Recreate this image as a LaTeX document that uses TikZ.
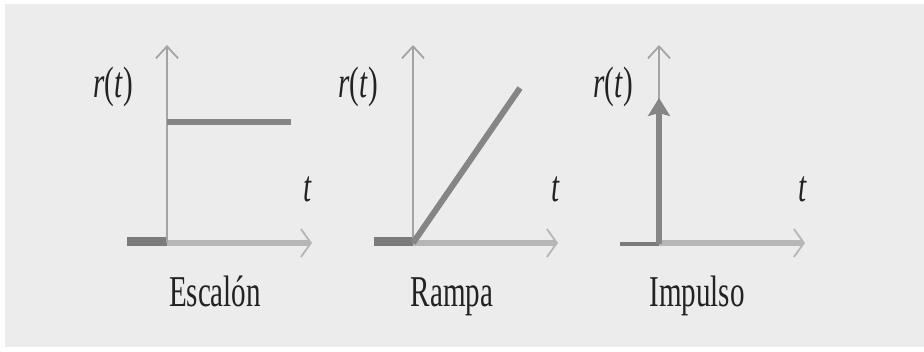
\documentclass[tikz,border=0pt]{standalone}
\usepackage{fontspec}
\setmainfont{Liberation Serif}
\usetikzlibrary{arrows.meta}
\definecolor{bggray}{HTML}{ECECEC}
\definecolor{axgray}{HTML}{A4A4A4}
\definecolor{bandgray}{HTML}{B6B6B6}
\definecolor{siggray}{HTML}{858585}
\definecolor{stubgray}{HTML}{7B7B7B}
\definecolor{ink}{HTML}{222222}

\begin{document}
\begin{tikzpicture}[x=1pt,y=1pt,
  vaxis/.style={draw=axgray,line width=2pt,-{Straight Barb[length=12pt,width=22pt,line width=1.8pt]}},
  haxis/.style={draw=bandgray,line width=6pt,-{Straight Barb[length=10pt,width=28pt,line width=1.8pt]}},
  stub/.style={draw=stubgray,line width=9pt},
  sig/.style={draw=siggray,line width=6pt},
  lbl/.style={text=ink,font=\fontsize{44}{50}\selectfont,xscale=0.66,inner sep=0pt},
  sigtitle/.style={lbl,anchor=base}]
\useasboundingbox (0,0) rectangle (924,351);
\fill[white] (0,0) rectangle (924,351);
\fill[bggray] (5,4) rectangle (924,347);
% Escalon
\coordinate (o1) at (167,108);
\coordinate (y1) at (167,306);
\coordinate (x1) at (312,108);
\coordinate (m1) at (127,109);
\coordinate (c1) at (167,109);
\coordinate (s1) at (167,229);
\coordinate (e1) at (291,229);
\draw[stub] (m1) -- (c1);
\draw[haxis] (o1) -- (x1);
\draw[vaxis] (o1) -- (y1);
\draw[sig] (s1) -- (e1);
\node[lbl] (r1) at (113,264) {\textit{r}(\textit{t})};
\node[lbl] (t1) at (308,162) {\textit{t}};
\node[sigtitle] (esc) at (215,45) {Escalón};
% Rampa
\coordinate (o2) at (413,108);
\coordinate (y2) at (413,306);
\coordinate (x2) at (558,108);
\coordinate (m2) at (374,109);
\coordinate (c2) at (413,109);
\coordinate (e2) at (520,263);
\draw[stub] (m2) -- (c2);
\draw[haxis] (o2) -- (x2);
\draw[vaxis] (o2) -- (y2);
\draw[sig] (o2) -- (e2);
\node[lbl] (r2) at (358,264) {\textit{r}(\textit{t})};
\node[lbl] (t2) at (556,162) {\textit{t}};
\node[sigtitle] (ram) at (452,45) {Rampa};
% Impulso
\coordinate (o3) at (659,108);
\coordinate (y3) at (659,306);
\coordinate (x3) at (805,108);
\coordinate (m3) at (620,107);
\coordinate (c3) at (659,107);
\coordinate (e3) at (659,253);
\draw[stub,line width=4pt] (m3) -- (c3);
\draw[haxis] (o3) -- (x3);
\draw[vaxis] (o3) -- (y3);
\draw[sig,-{Stealth[length=18pt,width=22pt,inset=3pt]}] (c3) -- (e3);
\node[lbl] (r3) at (613,264) {\textit{r}(\textit{t})};
\node[lbl] (t3) at (803,162) {\textit{t}};
\node[sigtitle] (imp) at (697,45) {Impulso};
\end{tikzpicture}
\end{document}
